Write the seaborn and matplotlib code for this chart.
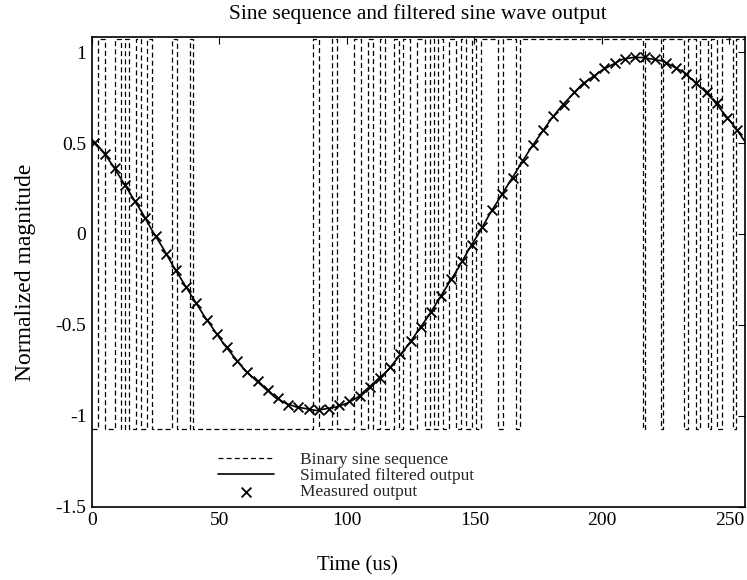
import matplotlib
matplotlib.use('Agg')
import matplotlib.pyplot as plt
import seaborn as sns

# binary sine sequence: intervals (us) where the sequence sits at the high level
high_pulses = [(2.3, 5.1), (9.0, 11.3), (12.9, 14.5), (17.2, 19.1), (21.5, 23.4),
               (31.3, 33.2), (38.3, 39.8),
               (86.7, 89.1), (94.1, 96.1), (102.7, 105.5), (108.2, 110.2), (112.9, 114.8),
               (118.4, 120.3), (121.9, 124.6), (127.3, 130.5), (132.4, 134.0), (135.9, 137.5),
               (140.2, 142.6), (144.9, 146.5), (149.2, 150.8), (152.7, 159.4), (161.3, 166.4),
               (168.0, 216.0), (216.8, 223.0), (223.8, 232.0), (233.6, 236.7), (238.3, 241.4),
               (242.6, 245.3), (246.9, 251.2), (252.7, 256.0)]
seq_high = 1.07
seq_low = -1.07
t_end = 256

# simulated filtered output, sampled every 4 us
sim_time = list(range(0, 257, 4))
sim_output = [0.52, 0.46, 0.38, 0.29, 0.20, 0.11, 0.01, -0.08, -0.18, -0.27,
              -0.36, -0.45, -0.53, -0.61, -0.68, -0.75, -0.80, -0.85, -0.90, -0.93,
              -0.95, -0.96, -0.97, -0.96, -0.95, -0.93, -0.90, -0.85, -0.80, -0.75,
              -0.68, -0.61, -0.53, -0.45, -0.36, -0.27, -0.18, -0.08, 0.01, 0.11,
              0.20, 0.29, 0.38, 0.47, 0.55, 0.63, 0.70, 0.76, 0.82, 0.86,
              0.90, 0.93, 0.96, 0.97, 0.97, 0.96, 0.95, 0.92, 0.89, 0.84,
              0.79, 0.73, 0.66, 0.59, 0.51]

# measured output points
meas_time = list(range(1, 254, 4))
meas_output = [0.50, 0.44, 0.36, 0.27, 0.18, 0.09, -0.01, -0.11, -0.20, -0.29,
               -0.38, -0.47, -0.55, -0.62, -0.70, -0.76, -0.81, -0.86, -0.90, -0.94,
               -0.95, -0.96, -0.97, -0.96, -0.94, -0.92, -0.89, -0.84, -0.79, -0.73,
               -0.66, -0.59, -0.51, -0.43, -0.34, -0.25, -0.15, -0.06, 0.04, 0.13,
               0.22, 0.31, 0.40, 0.49, 0.57, 0.65, 0.71, 0.78, 0.83, 0.87,
               0.91, 0.94, 0.96, 0.97, 0.97, 0.96, 0.94, 0.91, 0.88, 0.83,
               0.78, 0.72, 0.64, 0.57]

# step points for the binary sequence
seq_t = [0.0]
seq_v = [seq_low]
for a, b in high_pulses:
    seq_t += [a, b]
    seq_v += [seq_high, seq_low]
if seq_t[-1] >= t_end:
    seq_v[-1] = seq_high

sns.set_theme(style='white')
plt.rcParams['font.family'] = ['Liberation Serif', 'DejaVu Serif']

fig, ax = plt.subplots(figsize=(7.47, 5.80), dpi=100)
fig.subplots_adjust(left=0.123, right=0.997, bottom=0.126, top=0.936)

sns.lineplot(x=seq_t, y=seq_v, ax=ax, color='black', lw=0.9, linestyle=(0, (4, 2.5)),
             drawstyle='steps-post', sort=False, estimator=None, label='Binary sine sequence')
sns.lineplot(x=sim_time, y=sim_output, ax=ax, color='black', lw=1.2, sort=False,
             estimator=None, label='Simulated filtered output')
sns.scatterplot(x=meas_time, y=meas_output, ax=ax, marker='x', color='black', s=50,
                linewidth=1.3, label='Measured output', zorder=3)

ax.set_xlim(0, t_end)
ax.set_ylim(-1.5, 1.082)
ax.set_xticks([0, 50, 100, 150, 200, 250])
ax.set_xticklabels(['0', '50', '100', '150', '200', '250'])
ax.set_yticks([-1.5, -1, -0.5, 0, 0.5, 1])
ax.set_yticklabels(['-1.5', '-1', '-0.5', '0', '0.5', '1'])
ax.tick_params(direction='in', top=True, right=True, length=5, width=0.8,
               labelsize=14, colors='black', pad=4)
for sp in ax.spines.values():
    sp.set_color('black')
    sp.set_linewidth(1.2)

ax.set_xlabel('Time (us)', fontsize=15, labelpad=16, color='black')
ax.xaxis.set_label_coords(0.406, -0.105)
ax.set_ylabel('Normalized magnitude', fontsize=17, labelpad=14, color='black')
ax.set_title('Sine sequence and filtered sine wave output', fontsize=15.5, pad=13, color='black')

ax.legend(loc='lower left', bbox_to_anchor=(0.175, -0.012), frameon=False, fontsize=12.5,
          handlelength=3.2, handletextpad=1.5, labelspacing=0.0, borderpad=0.2)

plt.savefig('out.png', dpi=100)
